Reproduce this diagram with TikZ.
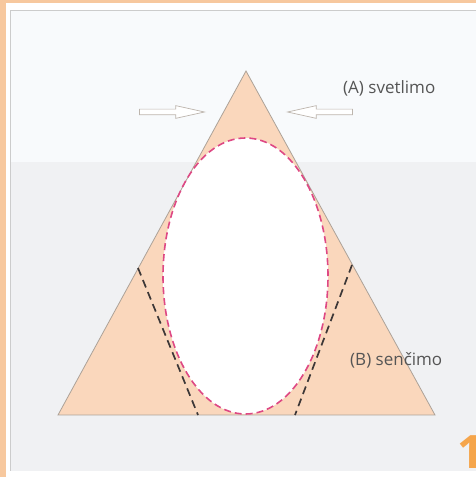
\documentclass[tikz,border=0pt]{standalone}
\usepackage{fontspec}
\setmainfont{Open Sans}
\usepackage{xcolor}
\usetikzlibrary{shapes.arrows}
\definecolor{peach}{RGB}{250,215,188}
\definecolor{edgegray}{RGB}{172,162,152}
\definecolor{dashpink}{RGB}{222,72,132}
\definecolor{dashdark}{RGB}{60,55,55}
\definecolor{bgupper}{RGB}{248,250,252}
\definecolor{bglower}{RGB}{240,241,243}
\definecolor{rimorange}{RGB}{247,200,158}
\definecolor{labelgray}{RGB}{85,85,85}
\definecolor{numorange}{RGB}{245,165,75}
\tikzset{
  openarrow/.style={single arrow,draw=edgegray!80,fill=white,line width=0.7pt,
    inner sep=2.5pt,minimum height=65pt,single arrow head extend=3.5pt,
    single arrow head indent=0pt,single arrow tip angle=25},
  lbl/.style={anchor=west,text=labelgray,font=\fontsize{17}{20}\selectfont,inner sep=0pt},
  limitline/.style={dashdark,line width=1.7pt,dash pattern=on 8pt off 5pt}
}
\begin{document}
\begin{tikzpicture}[x=1pt,y=1pt]
\useasboundingbox (0,0) rectangle (476,477);
% page background and rim
\fill[white] (0,0) rectangle (476,477);
\fill[rimorange] (0,0) rectangle (6,477);
\fill[rimorange] (0,474) rectangle (476,477);
\fill[bgupper] (10,315) rectangle (476,467);
\fill[bglower] (10,6) rectangle (476,315);
\draw[gray!40,line width=0.8pt] (10,6) -- (10,467) -- (476,467);
% triangle
\coordinate (apex) at (246,406);
\coordinate (bl) at (58,62);
\coordinate (br) at (435,62);
\fill[peach] (apex) -- (bl) -- (br) -- cycle;
% lit region
\coordinate (ctr) at (245.5,201);
\fill[white] (ctr) ellipse [x radius=82.5,y radius=138];
\draw[edgegray,line width=0.8pt] (apex) -- (bl) -- (br) -- cycle;
\draw[dashpink,line width=1.6pt,dash pattern=on 7pt off 4pt] (ctr) ellipse [x radius=82.5,y radius=138];
% shading limits
\coordinate (ltop) at (138,209);
\coordinate (lbot) at (198,62);
\coordinate (rtop) at (352,212);
\coordinate (rbot) at (295,62);
\draw[limitline] (ltop) -- (lbot);
\draw[limitline] (rtop) -- (rbot);
% pressing arrows
\node[openarrow] (arrL) at (165.5,365) {};
\node[openarrow,shape border rotate=180] (arrR) at (326.5,365) {};
% labels
\node[lbl] (lblA) at (343,389) {(A) svetlimo};
\node[lbl] (lblB) at (350,117) {(B) senčimo};
\node[anchor=south west,inner sep=0pt,text=numorange,font=\fontsize{46}{46}\selectfont\bfseries] (num) at (457,8) {1};
\end{tikzpicture}
\end{document}
